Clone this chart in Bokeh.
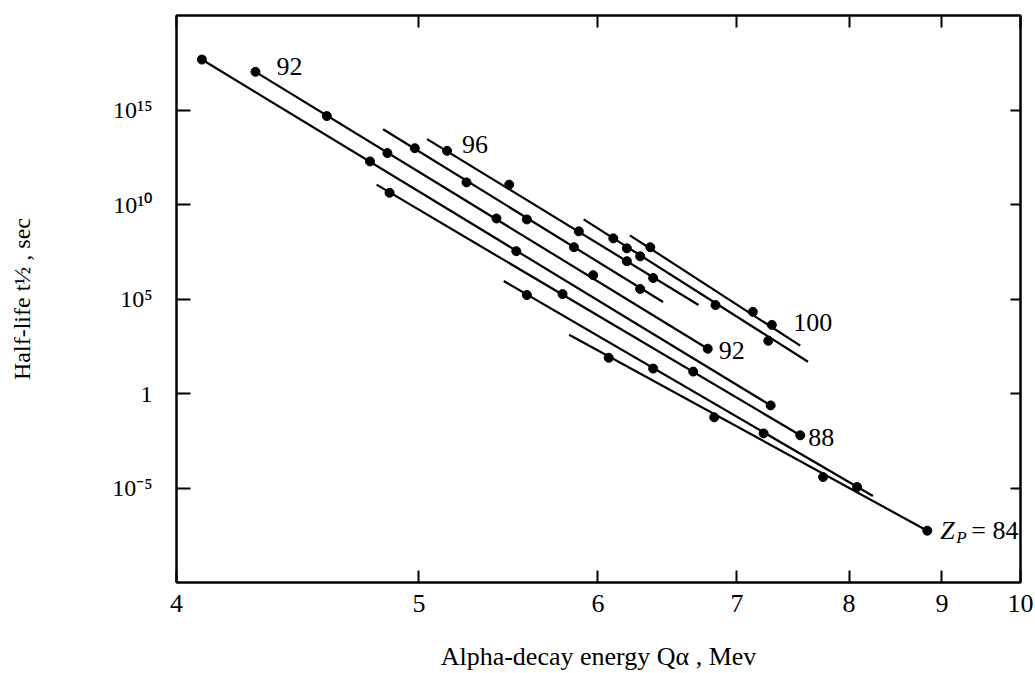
import math
from bokeh.plotting import figure
from bokeh.models import (Range1d, FixedTicker, CustomJSTickFormatter, LinearAxis,
                          Label, ColumnDataSource)
from bokeh.embed import file_html
from bokeh.resources import INLINE

# ---------------- data ----------------
# alpha-decay energy Q (MeV) and log10 of half-life (s), one list pair per parent Z
po_q = [6.07, 6.82, 7.75, 8.83]
po_logt = [1.89, -1.26, -4.42, -7.26]
rn_q = [5.57, 6.37, 7.22, 8.08]
rn_logt = [5.21, 1.32, -2.11, -4.95]
ra_q = [4.86, 5.78, 6.66, 7.54]
ra_logt = [10.62, 5.26, 1.16, -2.21]
th_q = [4.09, 4.77, 5.51, 7.28]
th_logt = [17.67, 12.28, 7.53, -0.63]
u_q = [4.29, 4.58, 4.85, 5.40, 5.97, 6.77]
u_logt = [17.02, 14.68, 12.72, 9.26, 6.26, 2.37]
pu_q = [4.98, 5.24, 5.57, 5.85, 6.28]
pu_logt = [12.98, 11.17, 9.21, 7.74, 5.53]
cm_q = [5.14, 5.47, 5.88, 6.19, 6.37]
cm_logt = [12.84, 11.05, 8.58, 7.00, 6.11]
cf_q = [6.10, 6.19, 6.28, 6.83, 7.26]
cf_logt = [8.21, 7.68, 7.26, 4.68, 2.79]
fm_q = [6.35, 7.13, 7.29]
fm_logt = [7.74, 4.32, 3.63]

# straight lines drawn through each Z family (start and end)
line_z = [84, 86, 88, 90, 92, 94, 96, 98, 100]
line_q0 = [5.82, 5.44, 4.80, 4.09, 4.29, 4.83, 5.04, 5.91, 6.21]
line_logt0 = [3.11, 5.95, 11.05, 17.67, 17.02, 13.98, 13.46, 9.21, 8.37]
line_q1 = [8.83, 8.24, 7.54, 7.28, 6.77, 6.44, 6.70, 7.61, 7.54]
line_logt1 = [-7.26, -5.42, -2.21, -0.63, 2.37, 4.84, 4.68, 1.68, 2.53]

x_tick_q = [4, 5, 6, 7, 8, 9, 10]
y_tick_vals = [-5, 0, 5, 10, 15]
y_tick_text = ["10\u207b\u2075", "1", "10\u2075", "10\u00b9\u2070", "10\u00b9\u2075"]

# ---------------- helpers ----------------
def inv_sqrt(vals):
    return [v ** -0.5 for v in vals]

FONT = "Liberation Serif"

p = figure(width=1035, height=673,
           x_range=Range1d(4 ** -0.5, 10 ** -0.5),
           y_range=Range1d(-10, 20),
           output_backend="svg", toolbar_location=None,
           min_border_left=176, min_border_right=15,
           min_border_top=15, min_border_bottom=90)
p.xgrid.visible = False
p.ygrid.visible = False
p.outline_line_color = "black"
p.outline_line_width = 2
p.background_fill_color = "white"
p.border_fill_color = "white"

xticker = FixedTicker(ticks=inv_sqrt(x_tick_q))
xfmt = CustomJSTickFormatter(code="return String(Math.round(1/(tick*tick)))")
blank = CustomJSTickFormatter(code="return ''")
yticker = FixedTicker(ticks=y_tick_vals)

xa = p.xaxis[0]
xa.ticker = xticker
xa.formatter = xfmt
ya = p.yaxis[0]
ya.ticker = yticker
ya.major_label_overrides = dict(zip(y_tick_vals, y_tick_text))

for ax, tick_len in ((xa, 12), (ya, 14)):
    ax.major_tick_in = tick_len
    ax.major_tick_out = 0
    ax.minor_tick_line_color = None
    ax.axis_line_width = 2
    ax.major_tick_line_width = 2
    ax.major_label_text_font = FONT
    ax.major_label_text_color = "black"
    ax.axis_label_text_font = FONT
    ax.axis_label_text_font_style = "normal"
    ax.axis_label_text_color = "black"

xa.major_label_text_font_size = "26px"
xa.major_label_standoff = 12
xa.axis_label = "Alpha-decay energy Q\u03b1 , Mev"
xa.axis_label_text_font_size = "26px"
xa.axis_label_standoff = 27

ya.major_label_text_font_size = "24px"
ya.major_label_standoff = 24
ya.axis_label = "Half-life t\u00bd , sec"
ya.axis_label_text_font_size = "24px"
ya.axis_label_standoff = 74

top = LinearAxis(ticker=xticker, formatter=blank, major_tick_in=12, major_tick_out=0,
                 minor_tick_line_color=None, axis_line_width=2, major_tick_line_width=2,
                 major_label_text_font_size="1px", major_label_standoff=0)
p.add_layout(top, "above")
right = LinearAxis(ticker=yticker, formatter=blank, major_tick_in=10, major_tick_out=0,
                   minor_tick_line_color=None, axis_line_width=2, major_tick_line_width=2,
                   major_label_text_font_size="1px", major_label_standoff=0)
p.add_layout(right, "right")

# lines
seg = ColumnDataSource(dict(x0=inv_sqrt(line_q0), y0=line_logt0,
                            x1=inv_sqrt(line_q1), y1=line_logt1))
p.segment("x0", "y0", "x1", "y1", source=seg, line_color="black", line_width=2.2)

# points
for q, lt in ((po_q, po_logt), (rn_q, rn_logt), (ra_q, ra_logt), (th_q, th_logt),
              (u_q, u_logt), (pu_q, pu_logt), (cm_q, cm_logt), (cf_q, cf_logt),
              (fm_q, fm_logt)):
    p.scatter(inv_sqrt(q), lt, size=9, color="black")

def lab(q, lt, text, dx, dy, size="26px", style="normal"):
    p.add_layout(Label(x=q ** -0.5, y=lt, text=text, x_offset=dx, y_offset=dy,
                       text_font=FONT, text_font_size=size, text_font_style=style,
                       text_baseline="middle", text_align="left", text_color="black"))

i92 = line_z.index(92)
lab(line_q0[i92], line_logt0[i92], "92", 21, 5)
lab(cm_q[0], cm_logt[0], "96", 15, 6)
i100 = line_z.index(100)
lab(line_q1[i100], line_logt1[i100], "100", -7, 23)
lab(line_q1[i92], line_logt1[i92], "92", 11, -2)
i88 = line_z.index(88)
lab(line_q1[i88], line_logt1[i88], "88", 8, -2)
i84 = line_z.index(84)
lab(line_q1[i84], line_logt1[i84], "Z", 13, 0, style="italic")
lab(line_q1[i84], line_logt1[i84], "P", 29, -7, size="17px", style="italic")
lab(line_q1[i84], line_logt1[i84], "= 84", 44, 0)

open("out.html", "w").write(file_html(p, INLINE))
